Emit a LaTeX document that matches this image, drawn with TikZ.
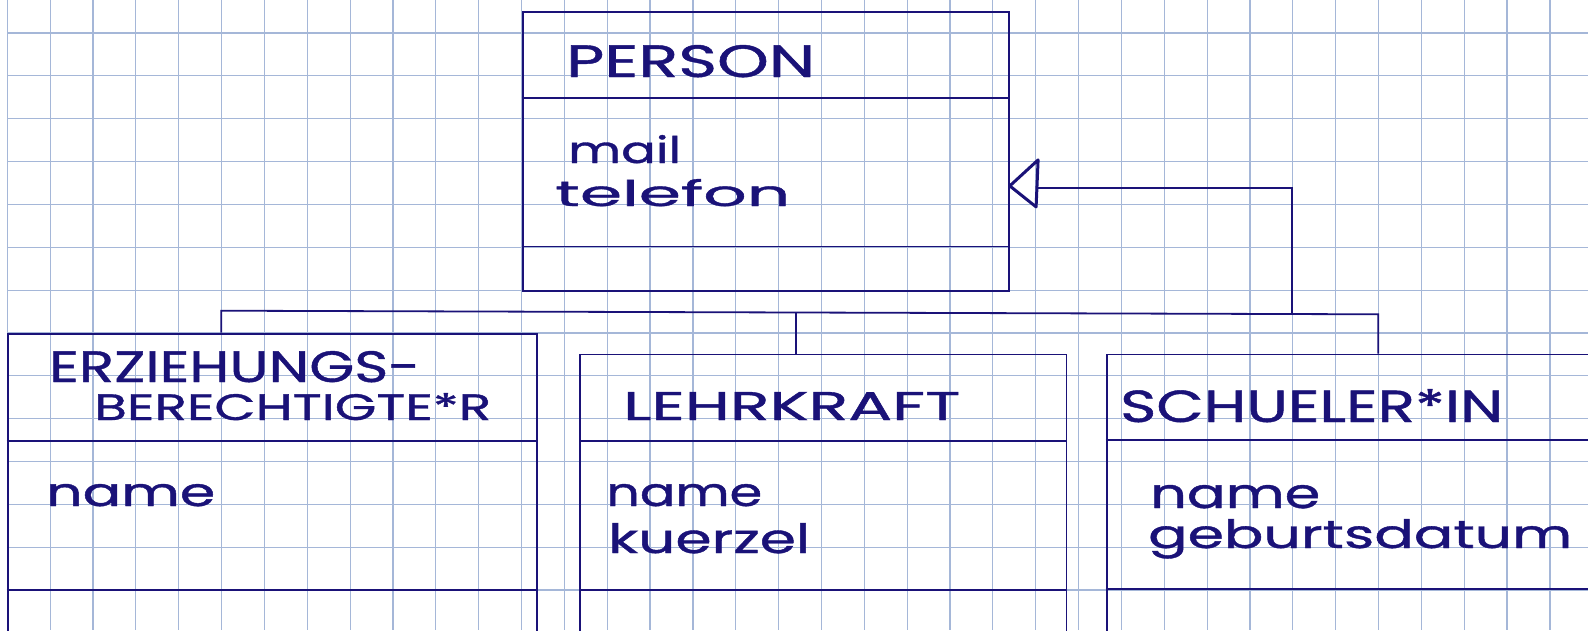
\documentclass[tikz,border=0pt]{standalone}
\usepackage{fontspec}
\setmainfont{Poppins}
\newfontfamily\hand[FakeBold=0.9]{Poppins}
\usepackage{graphicx}
\usetikzlibrary{calc}
\definecolor{ink}{RGB}{26,18,120}
\definecolor{gridc}{RGB}{165,183,216}
\newcommand{\hw}[3]{\resizebox{#1pt}{#2pt}{\hand #3}}
\begin{document}
\begin{tikzpicture}[x=1pt,y=-1pt,
  umlbox/.style={draw=ink, line width=1.8pt, rectangle, inner sep=0pt, anchor=north west},
  conn/.style={draw=ink, line width=1.8pt},
  divider/.style={draw=ink, line width=1.8pt},
  lbl/.style={anchor=base west, inner sep=0pt, text=ink},
  gridline/.style={draw=gridc, line width=1.2pt},
  inherit/.style={draw=ink, line width=3pt, line join=round}]
\useasboundingbox (0,0) rectangle (1588,630);
\clip (0,0) rectangle (1588,630);
\fill[white] (0,0) rectangle (1588,630);
% grid paper
\foreach \i in {0,...,36} \draw[gridline] ({7.3+42.85*\i},0) -- ({7.3+42.85*\i},630);
\foreach \j in {0,...,13} \draw[gridline] (7.3,{33+42.85*\j}) -- (1588,{33+42.85*\j});

% classes
\node[umlbox, minimum width=486.3pt, minimum height=278.6pt] (person) at (521.7,11.1) {};
\draw[divider] ([yshift=-86.9pt]person.north west) -- ([yshift=-86.9pt]person.north east);
\draw[divider] ([yshift=-235.4pt]person.north west) -- ([yshift=-235.4pt]person.north east);

\node[umlbox, minimum width=529.5pt, minimum height=400pt] (erz) at (6.7,332.7) {};
\draw[divider] ([yshift=-107.9pt]erz.north west) -- ([yshift=-107.9pt]erz.north east);
\draw[divider] ([yshift=-257.3pt]erz.north west) -- ([yshift=-257.3pt]erz.north east);

\node[umlbox, minimum width=486.2pt, minimum height=400pt] (lehr) at (579.3,353.5) {};
\draw[divider] ([yshift=-87.1pt]lehr.north west) -- ([yshift=-87.1pt]lehr.north east);
\draw[divider] ([yshift=-236.3pt]lehr.north west) -- ([yshift=-236.3pt]lehr.north east);

\node[umlbox, minimum width=600pt, minimum height=400pt] (sch) at (1105.7,353.5) {};
\draw[divider] ([yshift=-86.8pt]sch.north west) -- ([yshift=-86.8pt]sch.north east);
\draw[divider] ([yshift=-235.8pt]sch.north west) -- ([yshift=-235.8pt]sch.north east);

% texts
\node[lbl] (tperson) at (566,77) {\hw{249}{32}{PERSON}};
\node[lbl] (tmail) at (568,163) {\hw{113}{28}{mail}};
\node[lbl] (ttel) at (555,206) {\hw{235}{27}{telefon}};

\node[lbl] (terz1) at (49,382) {\hw{371}{31}{ERZIEHUNGS-}};
\node[lbl] (terz2) at (94,420) {\hw{397}{27}{BERECHTIGTE*R}};
\node[lbl] (terzn) at (46,506) {\hw{169}{22}{name}};

\node[lbl] (tlehr) at (623,420) {\hw{337}{28}{LEHRKRAFT}};
\node[lbl] (tlehrn) at (606,506) {\hw{156}{22}{name}};
\node[lbl] (tlehrk) at (608,553) {\hw{202}{30}{kuerzel}};

\node[lbl] (tsch) at (1120,422) {\hw{383}{33}{SCHUELER*IN}};
\node[lbl] (tschn) at (1150,508) {\hw{170}{23}{name}};
\node[lbl] (tschg) at (1148,548) {\hw{424}{29}{geburtsdatum}};

% connectors
\coordinate (busL) at (221.3,310.7);
\coordinate (busM) at (796,312.5);
\coordinate (busT) at (1292.3,313.8);
\coordinate (busR) at (1378.3,314.3);
\coordinate (tip) at ([yshift=-34.6pt]person.east);
\coordinate (base) at ($(tip)+(28.3,2)$);
\draw[conn] (busL |- erz.north) -- (busL) -- (busR) -- (busR |- sch.north);
\draw[conn] (busM) -- (busM |- lehr.north);
\draw[conn] (busT) |- (base);
\draw[inherit] (tip) -- ++(28.3,-26) -- ++(-2,47) -- cycle;
\end{tikzpicture}
\end{document}
